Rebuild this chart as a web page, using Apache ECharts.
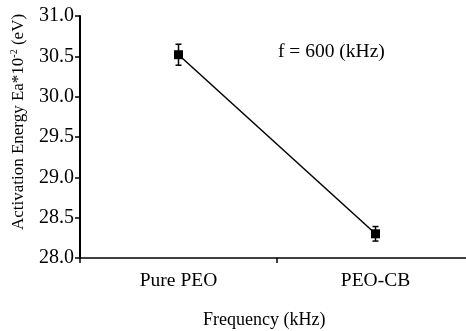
<!DOCTYPE html>
<html>
<head>
<meta charset="utf-8">
<script src="https://cdn.jsdelivr.net/npm/echarts@6/dist/echarts.min.js"></script>
<style>
  html, body { margin: 0; padding: 0; background: #fff; }
  #chart { width: 466px; height: 331px; }
</style>
</head>
<body>
<div id="chart"></div>
<script>
const categories = ['Pure PEO', 'PEO-CB'];
const energy = [30.52, 28.30];
const errors = [0.13, 0.09];
const yTicks = [28.0, 28.5, 29.0, 29.5, 30.0, 30.5, 31.0];

const chart = echarts.init(document.getElementById('chart'));
const font = 'Liberation Serif';

// error bars drawn from the value arrays
const errData = categories.map((c, i) => [i, energy[i] - errors[i], energy[i] + errors[i]]);

const option = {
    animation: false,
    grid: { left: 80, top: 16, right: -8, bottom: 73, outerBoundsMode: 'none' },
    xAxis: {
        type: 'category',
        data: categories,
        boundaryGap: true,
        axisLine: { lineStyle: { color: '#000', width: 1.5 } },
        axisTick: { show: true, length: 5, lineStyle: { color: '#000', width: 1.5 } },
        axisLabel: { color: '#000', fontFamily: font, fontSize: 19.5, margin: 13 }
    },
    yAxis: {
        type: 'value',
        min: yTicks[0],
        max: yTicks[yTicks.length - 1],
        interval: 0.5,
        splitLine: { show: false },
        axisLine: { show: true, lineStyle: { color: '#000', width: 2 } },
        axisTick: { show: true, length: 5, lineStyle: { color: '#000', width: 1.5 } },
        axisLabel: {
            color: '#000', fontFamily: font, fontSize: 20, margin: 6,
            formatter: v => v.toFixed(1)
        },
        name: '{a|Activation Energy Ea*10}{s|-2}{a| (eV)}',
        nameLocation: 'middle',
        nameGap: 52,
        nameRotate: 90,
        nameTextStyle: {
            padding: [0, 0, 0, 30],
            rich: {
                a: { fontFamily: font, fontSize: 17, color: '#000' },
                s: { fontFamily: font, fontSize: 10, color: '#000', verticalAlign: 'bottom', padding: [0, 0, 9, 0] }
            }
        }
    },
    graphic: [
        {
            type: 'text', left: 203, top: 311,
            style: { text: 'Frequency (kHz)', fontFamily: font, fontSize: 18, fill: '#000' }
        },
        {
            type: 'text', left: 278, top: 42,
            style: { text: 'f = 600 (kHz)', fontFamily: font, fontSize: 19.5, fill: '#000' }
        }
    ],
    series: [
        {
            type: 'line',
            data: energy,
            symbol: 'rect',
            symbolSize: 9,
            itemStyle: { color: '#000' },
            lineStyle: { color: '#000', width: 1.5 },
            z: 3
        },
        {
            type: 'custom',
            data: errData,
            z: 2,
            renderItem: (params, api) => {
                const x = api.coord([api.value(0), api.value(1)])[0];
                const lo = api.coord([api.value(0), api.value(1)])[1];
                const hi = api.coord([api.value(0), api.value(2)])[1];
                const w = 3;
                const st = { stroke: '#000', lineWidth: 1.5 };
                return {
                    type: 'group',
                    children: [
                        { type: 'line', shape: { x1: x, y1: lo, x2: x, y2: hi }, style: st },
                        { type: 'line', shape: { x1: x - w, y1: lo, x2: x + w, y2: lo }, style: st },
                        { type: 'line', shape: { x1: x - w, y1: hi, x2: x + w, y2: hi }, style: st }
                    ]
                };
            }
        }
    ]
};

chart.setOption(option);
</script>
</body>
</html>
